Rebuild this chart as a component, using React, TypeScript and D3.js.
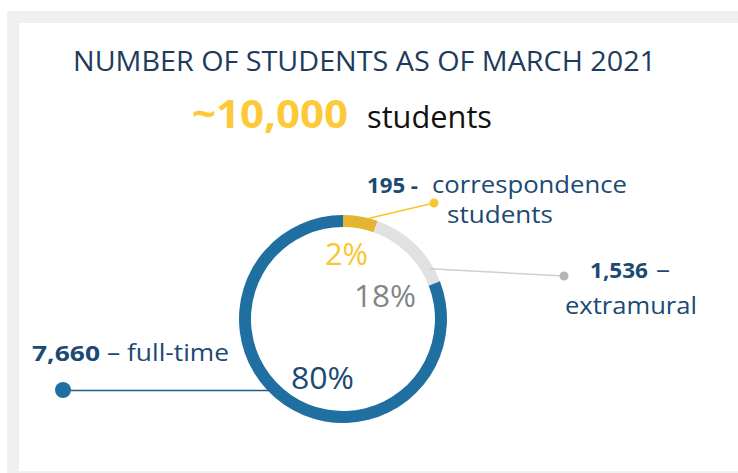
import React from "react";
import * as d3 from "d3";

const categories = ["correspondence", "extramural", "full-time"];
const studentCounts = ["195", "1,536", "7,660"];
const percentLabels = ["2%", "18%", "80%"];
// share of the ring as drawn in the reference (degrees converted to %)
const arcShares = [5.4, 13.7, 80.9];
const title = "NUMBER OF STUDENTS AS OF MARCH 2021";
const totalLabel = "~10,000";
const totalUnit = "students";

const W = 738;
const H = 473;
const cx = 343;
const cy = 319;
const outerR = 104;
const innerR = 92;

const ringColors = ["#e3b631", "#e1e1e1", "#1f6fa0"];
const navy = "#1b4a72";
const FONT = "'Open Sans', 'Noto Sans', sans-serif";

export default function App() {
  const pie = d3
    .pie<number>()
    .sort(null)
    .value((d) => d)
    .startAngle(0)
    .endAngle(2 * Math.PI);
  const arcs = pie(arcShares);
  const arcGen = d3.arc<d3.PieArcDatum<number>>().innerRadius(innerR).outerRadius(outerR);

  const pt = (angle: number, r: number) => [cx + r * Math.sin(angle), cy - r * Math.cos(angle)];

  // leader line anchor angles on ring
  const yellowAnchor = pt(arcs[0].startAngle + (arcs[0].endAngle - arcs[0].startAngle) * 0.75, outerR);
  const grayMid = pt(arcs[1].startAngle + (arcs[1].endAngle - arcs[1].startAngle) * 0.82, outerR - 4);
  const blueAnchor = [cx - Math.sqrt(outerR * outerR - 71 * 71) + 3, cy + 71];

  return (
    <svg
      width={W}
      height={H}
      style={{ position: "absolute", left: 0, top: 0 }}
      fontFamily={FONT}
    >
      <rect x={0} y={0} width={W} height={H} fill="#ffffff" />
      <rect x={7} y={11} width={W - 7} height={H - 11} fill="#f0f0f0" />
      <rect x={19} y={23} width={W - 19} height={448} fill="#ffffff" />

      <text x={73} y={71} fontSize={27} fill="#1d3c5c" textLength={583} lengthAdjust="spacingAndGlyphs">
        {title}
      </text>
      <text x={192} y={128} fontSize={40} fontWeight={700} fill="#fdc938" textLength={156} lengthAdjust="spacingAndGlyphs">
        {totalLabel}
      </text>
      <text x={367} y={128} fontSize={31} fill="#111111" textLength={125} lengthAdjust="spacingAndGlyphs">
        {totalUnit}
      </text>

      {arcs.map((a, i) => (
        <path key={categories[i]} d={arcGen(a) || ""} transform={`translate(${cx},${cy})`} fill={ringColors[i]} />
      ))}

      {/* leader lines */}
      <line x1={yellowAnchor[0]} y1={yellowAnchor[1]} x2={434} y2={203} stroke="#f5c62c" strokeWidth={1.5} />
      <circle cx={434} cy={203} r={4.5} fill="#f8c630" />
      <line x1={grayMid[0]} y1={grayMid[1]} x2={564} y2={276} stroke="#cfcfcf" strokeWidth={1.5} />
      <circle cx={564} cy={276} r={4.5} fill="#b5b5b5" />
      <line x1={63} y1={390.5} x2={blueAnchor[0]} y2={390.5} stroke="#1f5f8f" strokeWidth={1.6} />
      <circle cx={63} cy={390} r={8} fill="#1f6fa0" />

      {/* percent labels */}
      <text x={325} y={265} fontSize={31} fill="#f8c630" textLength={43} lengthAdjust="spacingAndGlyphs">
        {percentLabels[0]}
      </text>
      <text x={354} y={307} fontSize={31} fill="#858585" textLength={62} lengthAdjust="spacingAndGlyphs">
        {percentLabels[1]}
      </text>
      <text x={291} y={389} fontSize={31} fill={navy} textLength={63} lengthAdjust="spacingAndGlyphs">
        {percentLabels[2]}
      </text>

      {/* category labels */}
      <text x={367} y={193} fontSize={22} fontWeight={700} fill={navy} textLength={51} lengthAdjust="spacingAndGlyphs">
        {studentCounts[0] + " -"}
      </text>
      <text x={432} y={193} fontSize={24} fill={navy} textLength={195} lengthAdjust="spacingAndGlyphs">
        {categories[0]}
      </text>
      <text x={447} y={223} fontSize={24} fill={navy} textLength={106} lengthAdjust="spacingAndGlyphs">
        {totalUnit}
      </text>

      <text x={590} y={278} fontSize={22} fontWeight={700} fill={navy} textLength={58} lengthAdjust="spacingAndGlyphs">
        {studentCounts[1]}
      </text>
      <text x={656} y={278} fontSize={24} fill={navy} textLength={14} lengthAdjust="spacingAndGlyphs">
        –
      </text>
      <text x={565} y={314} fontSize={24} fill={navy} textLength={132} lengthAdjust="spacingAndGlyphs">
        {categories[1]}
      </text>

      <text x={32} y={361} fontSize={22} fontWeight={700} fill={navy} textLength={68} lengthAdjust="spacingAndGlyphs">
        {studentCounts[2]}
      </text>
      <text x={107} y={361} fontSize={24} fill={navy} textLength={122} lengthAdjust="spacingAndGlyphs">
        {"– " + categories[2]}
      </text>
    </svg>
  );
}
